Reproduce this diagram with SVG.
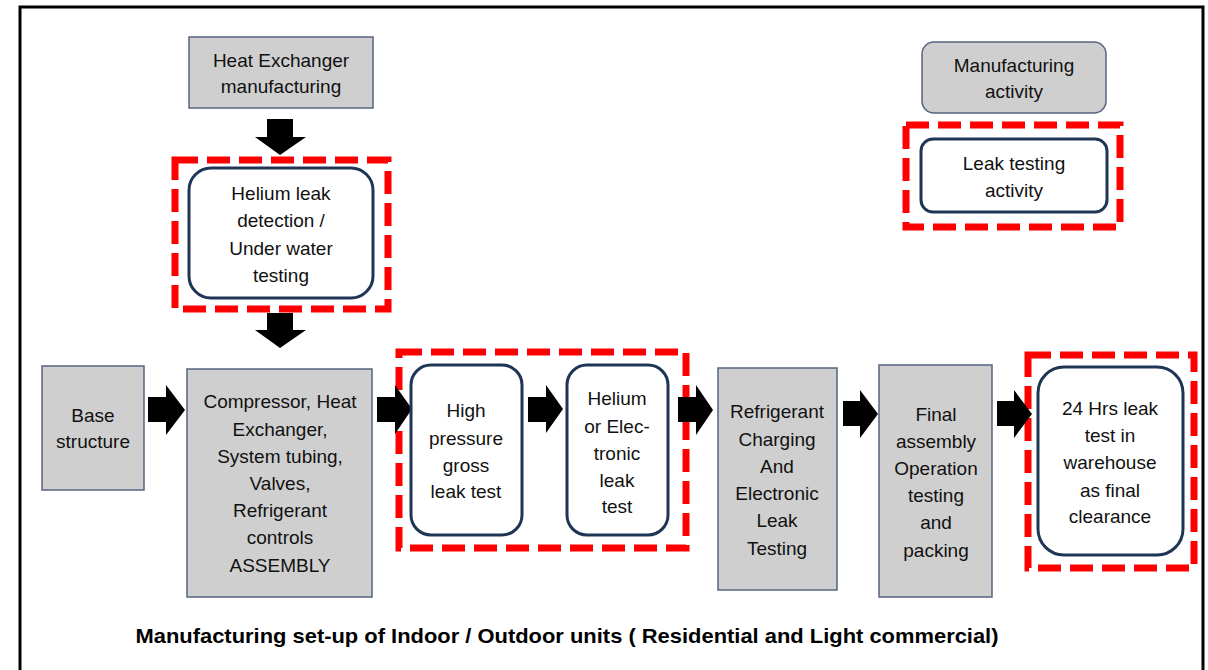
<svg xmlns="http://www.w3.org/2000/svg" width="1208" height="670" viewBox="0 0 1208 670">
<style>
  .gray { fill: #d0cfd0; stroke: #55647f; stroke-width: 1.5; }
  .test { fill: #ffffff; stroke: #1f3556; stroke-width: 3; }
  .hl { fill: none; stroke: #ff0000; stroke-width: 7; stroke-dasharray: 23 9; }
  .t { font-family: "Liberation Sans", Arial, sans-serif; font-size: 19px; fill: #111; text-anchor: middle; }
  .cap { font-family: "Liberation Sans", Arial, sans-serif; font-size: 21px; font-weight: bold; fill: #000; text-anchor: middle; }
  .arr { fill: #000; }
</style>
<rect x="0" y="0" width="1208" height="670" fill="#ffffff"/>
<rect x="20" y="7" width="1183" height="720" fill="none" stroke="#000" stroke-width="3"/>

<g id="highlights">
  <rect class="hl" x="175" y="160" width="213" height="149"/>
  <rect class="hl" x="399" y="352" width="287" height="196"/>
  <rect class="hl" x="1028" y="355" width="166" height="213"/>
  <rect class="hl" x="906" y="125" width="214" height="102"/>
</g>

<g id="connectors">
  <polygon class="arr" points="267,119 293,119 293,137 306,137 280,155 255,137 267,137"/>
  <polygon class="arr" points="267,313 293,313 293,330 306,330 280,348 255,330 267,330"/>
  <polygon class="arr" points="148,397 166,397 166,385 185,410 166,435 166,422 148,422"/>
  <polygon class="arr" points="377,397 395,397 395,385 412,409 395,434 395,422 377,422"/>
  <polygon class="arr" points="528,397 546,397 546,385 563,409 546,433 546,422 528,422"/>
  <polygon class="arr" points="678,397 696,397 696,385 713,410 696,435 696,422 678,422"/>
  <polygon class="arr" points="843,401 860,401 860,390 878,414 860,438 860,426 843,426"/>
  <polygon class="arr" points="997,401 1014,401 1014,390 1032,414 1014,438 1014,426 997,426"/>
</g>

<g id="heat-exchanger-manufacturing">
  <rect class="gray" x="189" y="37" width="184" height="71"/>
  <text class="t" x="281" y="67">Heat Exchanger</text>
  <text class="t" x="281" y="93">manufacturing</text>
</g>

<g id="helium-leak-detection">
  <rect class="test" x="189" y="168" width="184" height="130" rx="22"/>
  <text class="t" x="281" y="200">Helium leak</text>
  <text class="t" x="281" y="227">detection /</text>
  <text class="t" x="281" y="255">Under water</text>
  <text class="t" x="281" y="282">testing</text>
</g>

<g id="base-structure">
  <rect class="gray" x="42" y="366" width="102" height="124"/>
  <text class="t" x="93" y="422">Base</text>
  <text class="t" x="93" y="448">structure</text>
</g>

<g id="assembly">
  <rect class="gray" x="187" y="369" width="185" height="228"/>
  <text class="t" x="280" y="408">Compressor, Heat</text>
  <text class="t" x="280" y="436">Exchanger,</text>
  <text class="t" x="280" y="463">System tubing,</text>
  <text class="t" x="280" y="490">Valves,</text>
  <text class="t" x="280" y="517">Refrigerant</text>
  <text class="t" x="280" y="544">controls</text>
  <text class="t" x="280" y="572">ASSEMBLY</text>
</g>

<g id="high-pressure-test">
  <rect class="test" x="411" y="365" width="111" height="170" rx="20"/>
  <text class="t" x="466" y="417">High</text>
  <text class="t" x="466" y="445">pressure</text>
  <text class="t" x="466" y="472">gross</text>
  <text class="t" x="466" y="498">leak test</text>
</g>

<g id="helium-electronic-test">
  <rect class="test" x="567" y="365" width="101" height="170" rx="20"/>
  <text class="t" x="617" y="405">Helium</text>
  <text class="t" x="617" y="433">or Elec-</text>
  <text class="t" x="617" y="460">tronic</text>
  <text class="t" x="617" y="487">leak</text>
  <text class="t" x="617" y="513">test</text>
</g>

<g id="refrigerant-charging">
  <rect class="gray" x="718" y="368" width="119" height="222"/>
  <text class="t" x="777" y="418">Refrigerant</text>
  <text class="t" x="777" y="446">Charging</text>
  <text class="t" x="777" y="473">And</text>
  <text class="t" x="777" y="500">Electronic</text>
  <text class="t" x="777" y="527">Leak</text>
  <text class="t" x="777" y="555">Testing</text>
</g>

<g id="final-assembly">
  <rect class="gray" x="879" y="365" width="113" height="232"/>
  <text class="t" x="936" y="421">Final</text>
  <text class="t" x="936" y="448">assembly</text>
  <text class="t" x="936" y="475">Operation</text>
  <text class="t" x="936" y="502">testing</text>
  <text class="t" x="936" y="529">and</text>
  <text class="t" x="936" y="557">packing</text>
</g>

<g id="warehouse-test">
  <rect class="test" x="1038" y="367" width="145" height="188" rx="26"/>
  <text class="t" x="1110" y="415">24 Hrs leak</text>
  <text class="t" x="1110" y="442">test in</text>
  <text class="t" x="1110" y="469">warehouse</text>
  <text class="t" x="1110" y="497">as final</text>
  <text class="t" x="1110" y="523">clearance</text>
</g>

<g id="legend-manufacturing">
  <rect class="gray" x="922" y="42" width="184" height="71" rx="12"/>
  <text class="t" x="1014" y="72">Manufacturing</text>
  <text class="t" x="1014" y="98">activity</text>
</g>

<g id="legend-leak-testing">
  <rect class="test" x="921" y="139" width="186" height="73" rx="12"/>
  <text class="t" x="1014" y="170">Leak testing</text>
  <text class="t" x="1014" y="197">activity</text>
</g>

<text class="cap" x="567" y="643" textLength="863" lengthAdjust="spacingAndGlyphs">Manufacturing set-up of Indoor / Outdoor units ( Residential and Light commercial)</text>
</svg>
